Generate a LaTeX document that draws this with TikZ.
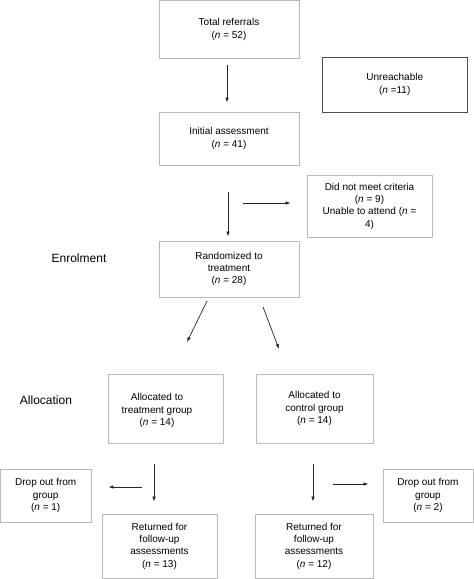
\documentclass[tikz,border=0pt]{standalone}
\usepackage{fontspec}
\setmainfont{Liberation Sans}
\usetikzlibrary{arrows.meta}
\tikzset{
    box/.style={draw=gray!55, line width=0.8pt, fill=white, align=center, inner sep=0pt,
        font=\fontsize{10}{12.3}\selectfont},
    darkbox/.style={box, draw=black!70},
    arr/.style={-{Latex[length=5pt,width=3.5pt]}, line width=0.7pt, black!85},
    phase/.style={font=\fontsize{12}{14}\selectfont}
}
\begin{document}
\begin{tikzpicture}[x=1pt, y=-1pt]
            \useasboundingbox (0,0) rectangle (474,579);

            \node [box, minimum width=140, minimum height=58] (total) at (229, 29.5) {Total referrals\\(\textit{n} = 52)};
            \node [darkbox, minimum width=144.5, minimum height=55] (unreach) at (394.75, 84.5) {Unreachable\\(\textit{n} =11)};
            \node [box, minimum width=140, minimum height=53] (init) at (229, 138.5) {Initial assessment\\(\textit{n} = 41)};
            \node [box, minimum width=125, minimum height=62] (notmet) at (369.5, 206) {Did not meet criteria\\(\textit{n} = 9)\\Unable to attend (\textit{n} =\\4)};
            \node [box, minimum width=140, minimum height=56] (rand) at (229, 269) {Randomized to\\treatment\\(\textit{n} = 28)};
            \node [box, minimum width=115, minimum height=69] (alloct) at (165.5, 408.5) {};
            \node [box, draw=none, fill=none] (alloctxt) at (157, 410.5) {Allocated to\\treatment group\\(\textit{n} = 14)};
            \node [box, minimum width=117, minimum height=69] (allocc) at (314.5, 408.5) {Allocated to\\control group\\(\textit{n} = 14)};
            \node [box, minimum width=90.5, minimum height=53] (dropt) at (45.75, 495.5) {Drop out from\\group\\(\textit{n} = 1)};
            \node [box, minimum width=90, minimum height=53] (dropc) at (428, 495.5) {Drop out from\\group\\(\textit{n} = 2)};
            \node [box, minimum width=115, minimum height=64] (rett) at (159.5, 546) {Returned for\\follow-up\\assessments\\(\textit{n} = 13)};
            \node [box, minimum width=118, minimum height=64] (retc) at (314, 546) {Returned for\\follow-up\\assessments\\(\textit{n} = 12)};

            \node [phase, fill=none] (enrol) at (79, 258) {Enrolment};
            \node [phase, fill=none] (alloc) at (46, 400) {Allocation};

            \coordinate (exclstart) at (243, 203);
            \coordinate (randl) at (207, 301);
            \coordinate (randlend) at (187, 342);
            \coordinate (randr) at (263, 307);
            \coordinate (randrend) at (279, 349);
            \coordinate (droptstart) at (142, 487);
            \coordinate (dropcstart) at (333, 484);

            \draw [arr, shorten <=6pt, shorten >=9pt] ([xshift=-2pt]total.south) to ([xshift=-2pt]init.north);
            \draw [arr, shorten <=27pt, shorten >=4pt] ([xshift=-1pt]init.south) to ([xshift=-1pt]rand.north);
            \draw [arr, shorten >=16pt] (exclstart) to (exclstart -| notmet.west);
            \draw [arr] (randl) to (randlend);
            \draw [arr] (randr) to (randrend);
            \draw [arr, shorten <=21pt, shorten >=12pt] ([xshift=-11.5pt]alloct.south) to ([xshift=-5.5pt]rett.north);
            \draw [arr, shorten <=21pt, shorten >=12pt] ([xshift=-1.5pt]allocc.south) to ([xshift=-1pt]retc.north);
            \draw [arr, shorten >=17pt] (droptstart) to (droptstart -| dropt.east);
            \draw [arr, shorten >=14pt] (dropcstart) to (dropcstart -| dropc.west);
        \end{tikzpicture}
\end{document}
